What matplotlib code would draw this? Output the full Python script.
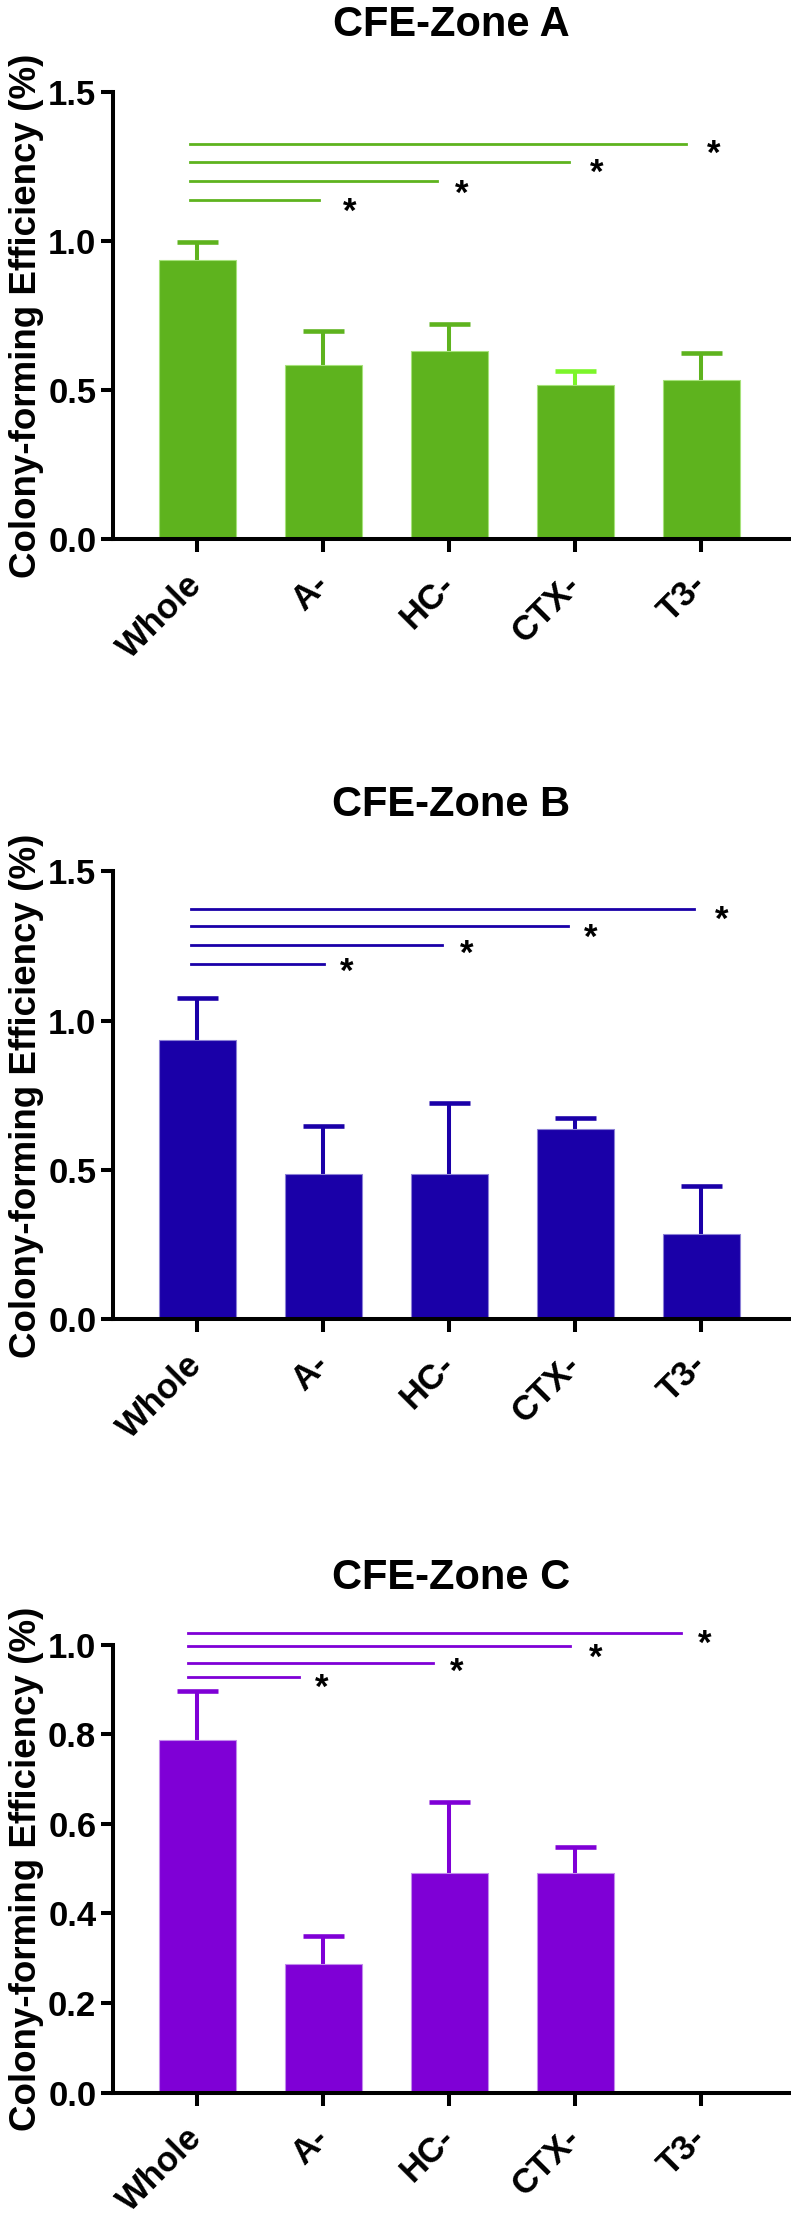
import numpy as np
import matplotlib
matplotlib.use("Agg")
import matplotlib.pyplot as plt

plt.rcParams["font.family"] = ["Liberation Sans", "DejaVu Sans"]
plt.rcParams["font.weight"] = "bold"

categories = ["Whole", "A-", "HC-", "CTX-", "T3-"]

# panel A
zone_a_mean = [0.938, 0.585, 0.633, 0.519, 0.536]
zone_a_err = [0.060, 0.113, 0.090, 0.046, 0.089]
# panel B
zone_b_mean = [0.936, 0.486, 0.486, 0.636, 0.287]
zone_b_err = [0.139, 0.163, 0.237, 0.038, 0.161]
# panel C (T3- has no bar)
zone_c_mean = [0.788, 0.288, 0.490, 0.490, 0.0]
zone_c_err = [0.109, 0.061, 0.159, 0.059, 0.0]

# significance lines (height, end position) and asterisk positions
sig_a_y = [1.139, 1.203, 1.266, 1.326]
sig_a_end = [0.97, 1.90, 2.95, 3.88]
star_a_x = [1.21, 2.10, 3.17, 4.10]
star_a_y = [1.120, 1.180, 1.252, 1.315]

sig_b_y = [1.191, 1.252, 1.317, 1.375]
sig_b_end = [1.01, 1.94, 2.94, 3.94]
star_b_x = [1.19, 2.14, 3.12, 4.16]
star_b_y = [1.184, 1.244, 1.300, 1.358]

sig_c_y = [0.928, 0.959, 0.996, 1.026]
sig_c_end = [0.81, 1.87, 2.96, 3.84]
star_c_x = [0.99, 2.06, 3.16, 4.03]
star_c_y = [0.919, 0.953, 0.984, 1.016]

panels = [
    {
        "title": "CFE-Zone A",
        "mean": zone_a_mean, "err": zone_a_err,
        "color": "#5EB31E", "edge": "#A6E27A",
        "cap_colors": ["#5EB31E", "#5EB31E", "#5EB31E", "#7CF52A", "#5EB31E"],
        "ylim": 1.5, "yticks": [0.0, 0.5, 1.0, 1.5],
        "sig_y": sig_a_y, "sig_end": sig_a_end, "sig_start": -0.06,
        "star_x": star_a_x, "star_y": star_a_y,
        "rect": [0.1429, 0.7568, 0.855, 0.2017],
    },
    {
        "title": "CFE-Zone B",
        "mean": zone_b_mean, "err": zone_b_err,
        "color": "#1A00A8", "edge": "#8C80D6",
        "cap_colors": ["#1A00A8"] * 5,
        "ylim": 1.5, "yticks": [0.0, 0.5, 1.0, 1.5],
        "sig_y": sig_b_y, "sig_end": sig_b_end, "sig_start": -0.05,
        "star_x": star_b_x, "star_y": star_b_y,
        "rect": [0.1429, 0.4051, 0.855, 0.2021],
    },
    {
        "title": "CFE-Zone C",
        "mean": zone_c_mean, "err": zone_c_err,
        "color": "#7F00D6", "edge": "#C28AEC",
        "cap_colors": ["#7F00D6"] * 5,
        "ylim": 1.0, "yticks": [0.0, 0.2, 0.4, 0.6, 0.8, 1.0],
        "sig_y": sig_c_y, "sig_end": sig_c_end, "sig_start": -0.07,
        "star_x": star_c_x, "star_y": star_c_y,
        "rect": [0.1429, 0.0565, 0.855, 0.2020],
    },
]

fig = plt.figure(figsize=(7.91, 22.18), dpi=100)

x = np.arange(len(categories))
bar_w = 0.61
cap_half = 0.163

for p in panels:
    ax = fig.add_axes(p["rect"])

    mean = np.array(p["mean"])
    err = np.array(p["err"])
    show = mean > 0

    # upper error bars only, stem sits behind the bar
    for i in x[show]:
        top = mean[i] + err[i]
        ax.vlines(i, mean[i], top, color=p["cap_colors"][i],
                  linewidth=2.9, zorder=1)
        ax.hlines(top, i - cap_half, i + cap_half, color=p["cap_colors"][i],
                  linewidth=3.3, zorder=1)

    ax.bar(
        x[show], mean[show], width=bar_w,
        color=p["color"], edgecolor=p["edge"], linewidth=0.8, zorder=2
    )

    shift = 0.055 * p["ylim"] / 1.5
    for yy, xe, sx, sy in zip(p["sig_y"], p["sig_end"], p["star_x"], p["star_y"]):
        ax.plot([p["sig_start"], xe], [yy, yy], color=p["color"],
                linewidth=2.0, clip_on=False, zorder=3)
        ax.text(sx, sy - shift, "*", ha="center", va="baseline",
                fontsize=25, fontweight="bold", clip_on=False)

    ax.set_xlim(-0.667, 4.70)
    ax.set_ylim(0, p["ylim"])
    ax.set_yticks(p["yticks"])
    ax.set_yticklabels([f"{t:.1f}" for t in p["yticks"]])
    ax.set_xticks(x)
    ax.set_xticklabels(categories, rotation=45, ha="right",
                       rotation_mode="anchor", va="center")

    ax.spines["top"].set_visible(False)
    ax.spines["right"].set_visible(False)
    ax.spines["left"].set_linewidth(2.9)
    ax.spines["bottom"].set_linewidth(2.9)
    ax.tick_params(axis="both", direction="out", length=9, width=2.9,
                   labelsize=25)
    ax.tick_params(axis="x", pad=20)
    ax.tick_params(axis="y", pad=3)
    for lab in ax.get_xticklabels() + ax.get_yticklabels():
        lab.set_fontweight("bold")

    ax.set_ylabel("Colony-forming Efficiency (%)", fontsize=26.5,
                  fontweight="bold", labelpad=3)
    ax.set_title(p["title"], fontsize=30, fontweight="bold", pad=40)

fig.savefig("out.png", dpi=100)
